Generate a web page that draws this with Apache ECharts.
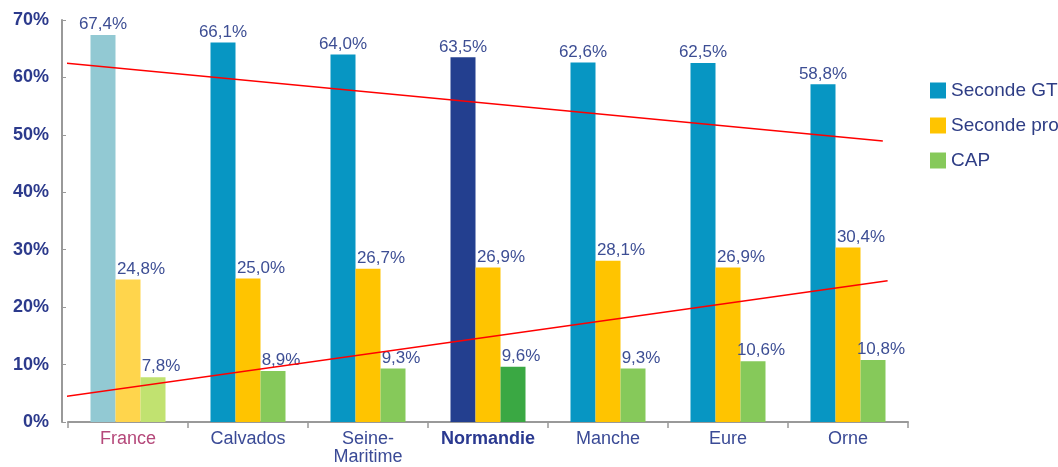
<!DOCTYPE html>
<html><head><meta charset="utf-8">
<script src="https://cdn.jsdelivr.net/npm/echarts@6/dist/echarts.min.js"></script>
<style>html,body{margin:0;padding:0;background:#fff}#c{width:1058px;height:467px}</style>
</head><body><div id="c"></div>
<script>
var categories = ['France','Calvados','Seine-\nMaritime','Normandie','Manche','Eure','Orne'];
var secondeGT = [67.4, 66.1, 64.0, 63.5, 62.6, 62.5, 58.8];
var secondePro = [24.8, 25.0, 26.7, 26.9, 28.1, 26.9, 30.4];
var cap = [7.8, 8.9, 9.3, 9.6, 9.3, 10.6, 10.8];
var yTicks = [0, 10, 20, 30, 40, 50, 60, 70];
var topTrend = [[-0.73, 62.9], [6.29, 48.95]];
var bottomTrend = [[-0.77, 3.7], [6.33, 24.6]];

var colGT = '#0796c3', colPro = '#ffc400', colCap = '#86c95a';
var special = {
  0: {gt: '#92c9d3', pro: '#ffd54c', cap: '#c1e270'},
  3: {gt: '#233f8f', pro: '#ffc400', cap: '#3aa843'}
};
function mk(arr, key, def) {
  return arr.map(function (v, i) {
    return {value: v, itemStyle: {color: special[i] ? special[i][key] : def}};
  });
}
function fmt(p) { return p.value.toFixed(1).replace('.', ',') + '%'; }
var labelBase = {show: true, position: 'top', distance: 2, color: '#3d4e94', fontSize: 17, fontFamily: 'Liberation Sans', formatter: fmt};

var chart = echarts.init(document.getElementById('c'));
chart.setOption({
  animation: false,
  textStyle: {fontFamily: 'Liberation Sans'},
  grid: {left: 68, right: 150, top: 20, bottom: 45},
  legend: {
    orient: 'vertical', left: 925, top: 76, itemWidth: 16, itemHeight: 16, itemGap: 16,
    icon: 'rect',
    textStyle: {color: '#2e3d85', fontSize: 19, fontFamily: 'Liberation Sans'},
    data: ['Seconde GT', 'Seconde pro', 'CAP']
  },
  xAxis: [{
    type: 'category', data: categories,
    axisLine: {lineStyle: {color: '#999', width: 2}},
    axisTick: {show: true, interval: 0, length: 6, lineStyle: {color: '#999', width: 1.5}},
    axisLabel: {
      interval: 0, color: '#3a4a96', fontSize: 18, lineHeight: 18, margin: 8,
      formatter: function (v) {
        if (v === 'France') return '{fr|France}';
        if (v === 'Normandie') return '{no|Normandie}';
        return v;
      },
      rich: {
        fr: {color: '#b5487a', fontSize: 18},
        no: {color: '#2a3990', fontSize: 18, fontWeight: 'bold'}
      }
    }
  }, {
    type: 'value', min: -0.5, max: 6.5, show: false
  }],
  yAxis: {
    type: 'value', min: 0, max: 70, interval: 10, offset: 6,
    axisLine: {show: true, onZero: false, lineStyle: {color: '#999', width: 2}},
    axisTick: {show: true, inside: true, length: 4, lineStyle: {color: '#999'}},
    splitLine: {show: false},
    axisLabel: {color: '#2c3a8c', fontSize: 18, fontWeight: 'bold', margin: 13,
      formatter: function (v) { return yTicks.indexOf(v) >= 0 ? v + '%' : ''; }}
  },
  series: [
    {name: 'Seconde GT', type: 'bar', barWidth: 25, barGap: '0%', itemStyle: {color: colGT},
      data: mk(secondeGT, 'gt', colGT), label: labelBase},
    {name: 'Seconde pro', type: 'bar', barWidth: 25, barGap: '0%', itemStyle: {color: colPro},
      data: mk(secondePro, 'pro', colPro), label: Object.assign({}, labelBase, {offset: [13, 0]})},
    {name: 'CAP', type: 'bar', barWidth: 25, barGap: '0%', itemStyle: {color: colCap},
      data: mk(cap, 'cap', colCap), label: Object.assign({}, labelBase, {offset: [8, 0]})},
    {name: 'trend1', type: 'line', xAxisIndex: 1, data: topTrend, symbol: 'none', clip: false, silent: true,
      lineStyle: {color: '#ff0000', width: 1.5}, z: 5},
    {name: 'trend2', type: 'line', xAxisIndex: 1, data: bottomTrend, symbol: 'none', clip: false, silent: true,
      lineStyle: {color: '#ff0000', width: 1.5}, z: 5}
  ]
});
</script></body></html>
